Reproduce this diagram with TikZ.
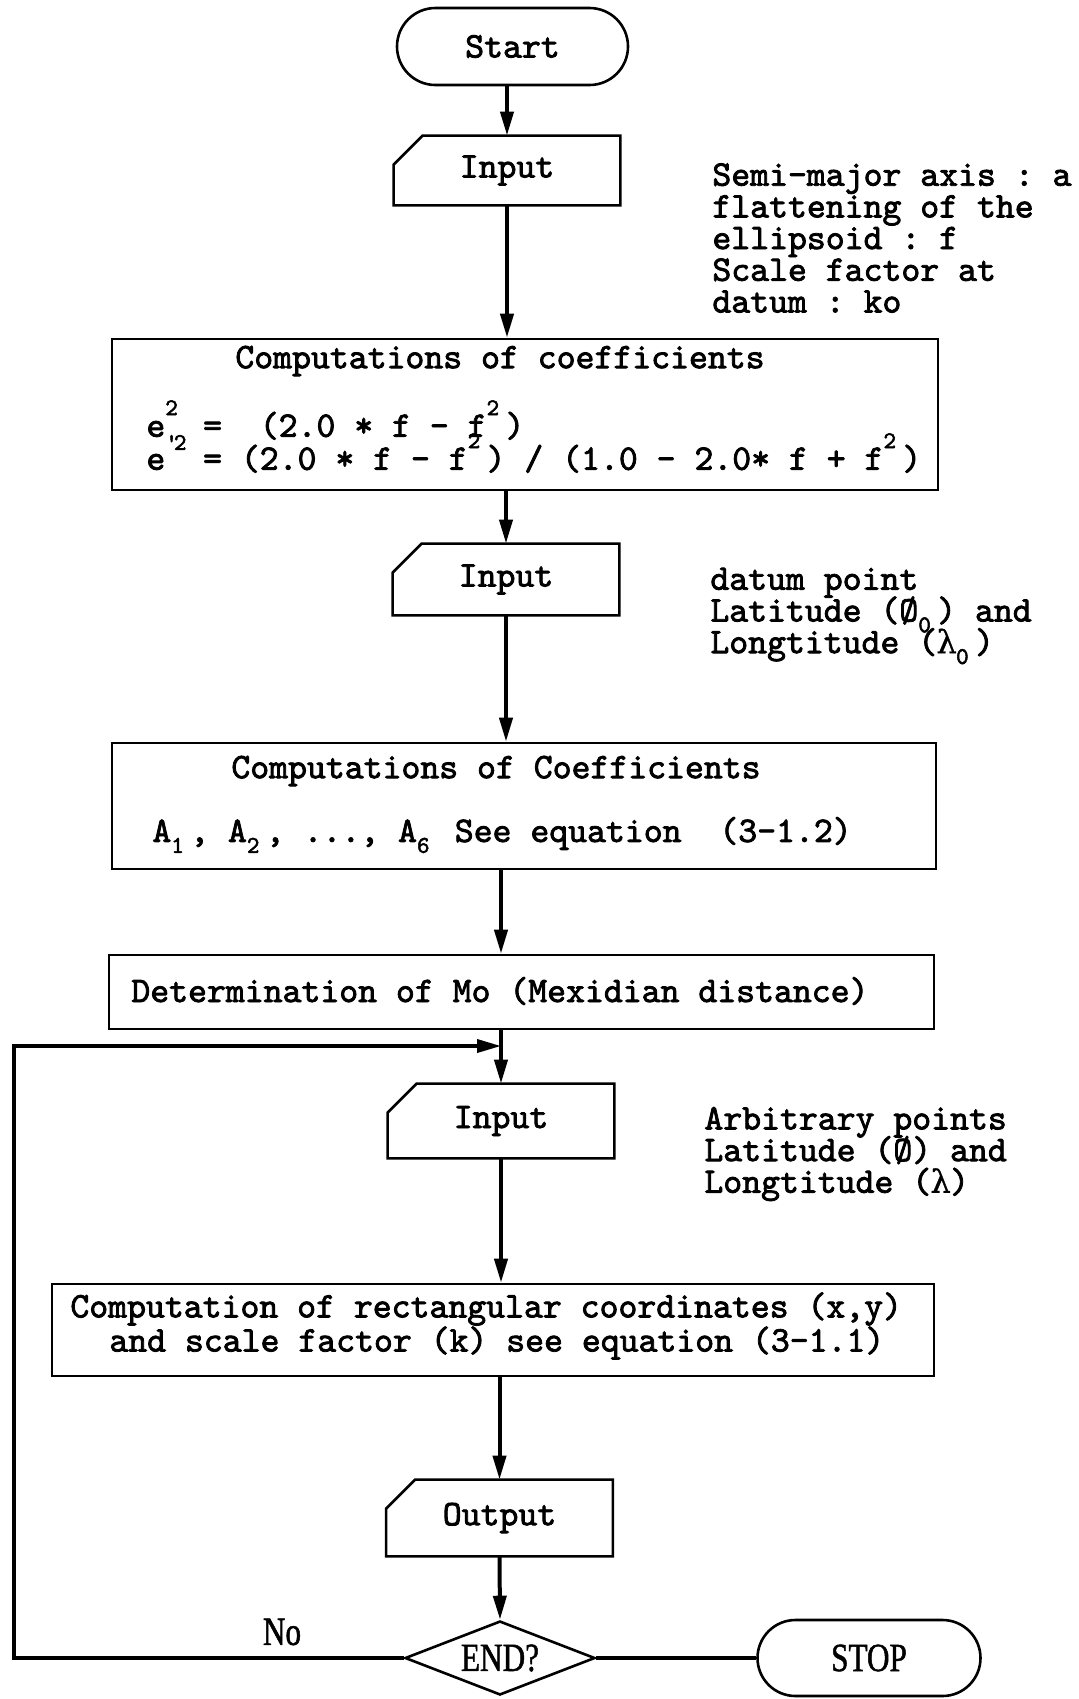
\documentclass[tikz,border=0pt]{standalone}
\usepackage{fontspec}
\newfontfamily\pfont{lmmono10-regular.otf}[FakeBold=2.2]
\newfontfamily\dfont{DejaVu Serif}[FakeBold=1]
\newfontfamily\rfont{Liberation Serif}[FakeStretch=0.78, FakeBold=1.2]
\usetikzlibrary{arrows.meta,shapes.misc,shapes.geometric}

% width of one character cell of the current (monospaced) font
\newcommand\cell{\fontcharwd\font`0\relax}
% raised / lowered index that takes exactly one character cell
\newcommand\sups[1]{\makebox[\cell][l]{\raisebox{0.6em}{\fontsize{12}{12}\selectfont #1}}}
\newcommand\subs[1]{\makebox[\cell][l]{\raisebox{-0.3em}{\fontsize{12}{12}\selectfont #1}}}
% primed exponent, squeezed into one cell
\newcommand\psups[1]{\makebox[\cell][l]{\raisebox{0.55em}{\fontsize{12}{12}\selectfont\textquotesingle\kern-2pt#1}}}
% Greek lambda set in one cell
\newcommand\lam{\makebox[\cell][c]{\dfont\fontsize{16}{16}\selectfont λ}}

% input symbol: rectangle with the upper left corner cut off
\newcommand\chamfer[1]{%
  \draw[boxline] (#1.south west) -- ([yshift=-14.5pt]#1.north west)
    -- ([xshift=14.5pt]#1.north west) -- (#1.north east)
    -- (#1.south east) -- cycle;}

\begin{document}
\frenchspacing
\begin{tikzpicture}[x=0.5pt,y=-0.5pt,
  mono/.style={font={\pfont\fontsize{18}{15.85}\selectfont\lineskiplimit=-30pt}},
  serif/.style={font={\rfont\fontsize{20}{20}\selectfont}},
  boxline/.style={line width=1.3pt, line join=miter},
  txt/.style={mono, inner sep=0pt},
  procbox/.style={draw, boxline, rectangle, inner sep=0pt},
  inbox/.style={mono, rectangle, inner sep=0pt, minimum width=113pt},
  term/.style={draw, boxline, rounded rectangle, inner sep=0pt},
  decision/.style={draw, boxline, diamond, inner sep=0pt, shape aspect=2.57,
    minimum width=95pt, minimum height=37pt, serif},
  arr/.style={line width=2pt, -{Triangle[length=12pt,width=6.5pt]}},
  flow/.style={line width=1.8pt},
]
\useasboundingbox (0,0) rectangle (1079,1699);

% ---- start and first input
\node[term, mono, minimum width=115.5pt, minimum height=38.5pt] (start) at (512.5,46.5) {Start};
\node[inbox, minimum height=34.5pt] (in1) at (507,170.5) {Input};
\chamfer{in1}
\node[txt, anchor=west, align=left] (note1) at (712,238)
  {Semi-major axis : a\\flattening of the\\ellipsoid : f\\Scale factor at\\datum : ko};

% ---- eccentricities
\node[procbox, minimum width=413pt, minimum height=75.5pt] (coef1) at (525,414.5) {};
\node[txt, anchor=west] (coef1t) at (235,361) {Computations of coefficients};
\node[txt, anchor=west] (coef1a) at (146,420) {e\sups{2} =~ (2.0 * f - f\sups{2})};
\node[txt, anchor=west] (coef1b) at (146,453) {e\psups{2} = (2.0 * f - f\sups{2}) / (1.0 - 2.0* f + f\sups{2})};

% ---- datum point
\node[inbox, minimum height=35.5pt] (in2) at (506,579.5) {Input};
\chamfer{in2}
\node[txt, anchor=west, align=left] (note2) at (710,616)
  {datum point\\Latitude (Ø\subs{0}) and\\Longtitude (\lam\subs{0})};

% ---- series coefficients
\node[procbox, minimum width=412pt, minimum height=63pt] (coef2) at (524,806) {};
\node[txt, anchor=west] (coef2t) at (231,771) {Computations of Coefficients};
\node[txt, anchor=west] (coef2a) at (152,835) {A\subs{1}, A\subs{2}, ..., A\subs{6} See equation~ (3-1.2)};

% ---- meridian distance
\node[procbox, minimum width=412.5pt, minimum height=37pt] (mo) at (521.5,992) {};
\node[txt, anchor=west] (mot) at (131,991) {Determination of Mo (Mexidian distance)};

% ---- arbitrary points
\node[inbox, minimum height=37pt] (in3) at (501,1121) {Input};
\chamfer{in3}
\node[txt, anchor=west, align=left] (note3) at (704,1154)
  {Arbitrary points\\Latitude (Ø) and\\Longtitude (\lam)};

% ---- rectangular coordinates
\node[procbox, minimum width=441pt, minimum height=46pt] (rect) at (493,1330) {};
\node[txt, anchor=west] (recta) at (70,1309) {Computation of rectangular coordinates (x,y)};
\node[txt, anchor=west] (rectb) at (109,1343) {and scale factor (k) see equation (3-1.1)};

% ---- output, test and stop
\node[inbox, minimum height=38pt] (out) at (499.5,1518) {Output};
\chamfer{out}
\node[decision] (endq) at (500,1658) {END?};
\node[term, serif, minimum width=111.5pt, minimum height=38pt] (stop) at (869,1658) {STOP};
\node[serif, inner sep=0pt] (no) at (282,1632) {No};

% ---- connectors
\draw[arr] (in1.north |- start.south) -- (in1.north);
\draw[arr] (in1.south) -- (in1.south |- coef1.north);
\draw[arr] (in2.north |- coef1.south) -- (in2.north);
\draw[arr] (in2.south) -- (in2.south |- coef2.north);
\draw[arr] (in3.north |- coef2.south) -- (in3.north |- mo.north);
\draw[arr] (in3.north |- mo.south) -- (in3.north);
\draw[arr] (in3.south) -- (in3.south |- rect.north);
\draw[arr] (out.north |- rect.south) -- (out.north);
\draw[arr] (out.south) -- (endq.north);
\draw[flow] (endq.east) -- (stop.west);
\coordinate (lc) at (14,1046);
\draw[flow, -{Triangle[length=12pt,width=6.5pt]}] (endq.west) -| (lc) -- (in3.north |- lc);
\end{tikzpicture}
\end{document}
